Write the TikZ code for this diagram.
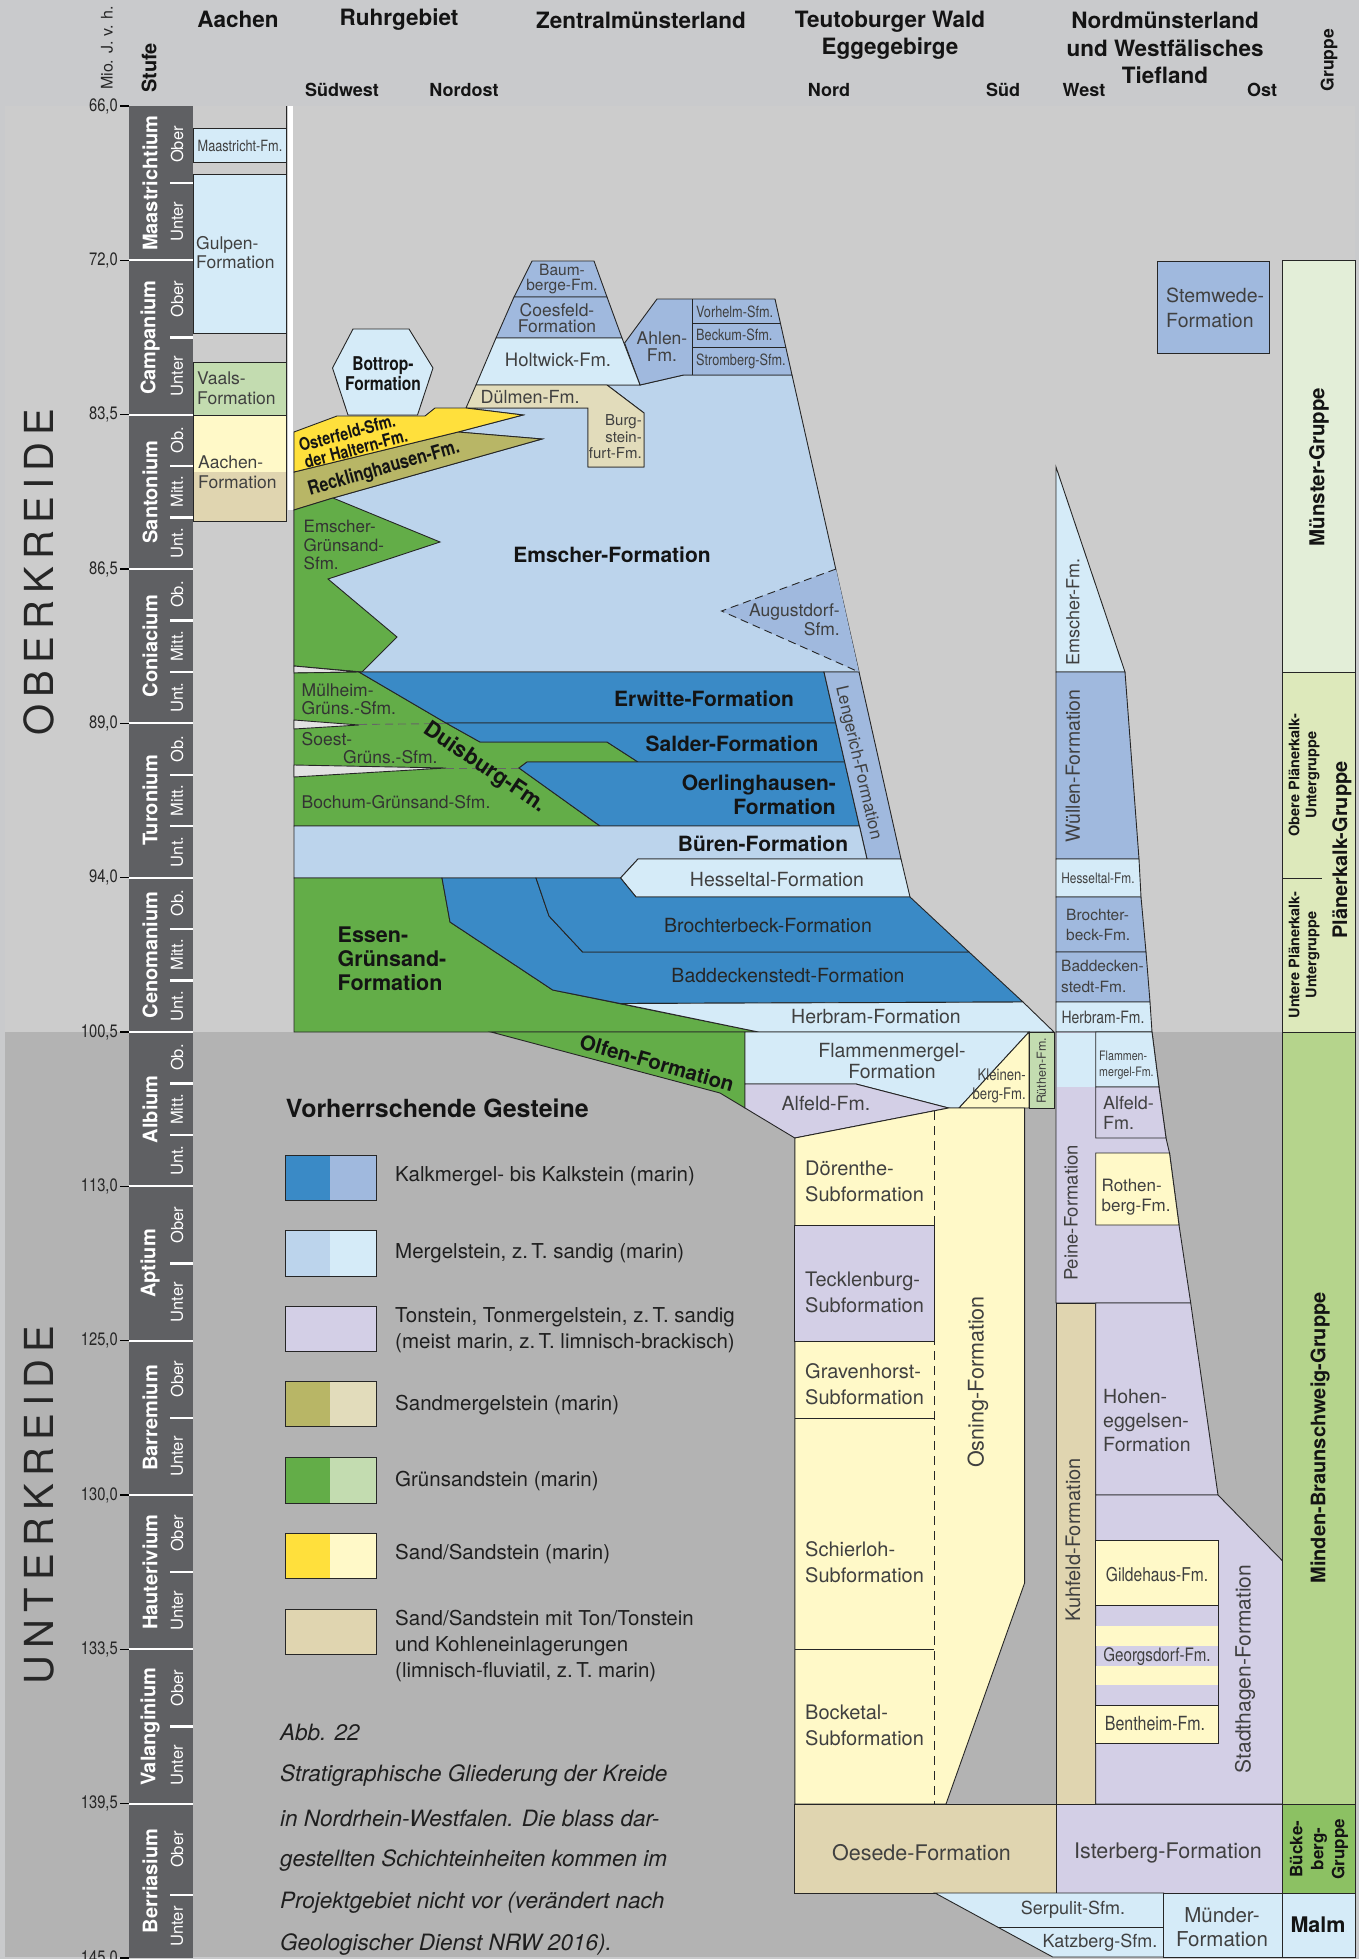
\documentclass[tikz,border=0pt]{standalone}
\usepackage{fontspec}
\setmainfont{TeX Gyre Heros}
\newfontfamily\cnd{TeX Gyre Heros}[FakeStretch=0.82]
\newfontfamily\spc{TeX Gyre Heros}[LetterSpace=18]
\usepackage{xcolor}
\usetikzlibrary{positioning}
\newcommand\fsz[2]{\fontsize{#1}{#2}\selectfont}
\definecolor{kalkD}{HTML}{3A8AC6}
\definecolor{kalkL}{HTML}{A0B9DE}
\definecolor{mergD}{HTML}{BCD4EC}
\definecolor{mergL}{HTML}{D5EBF8}
\definecolor{ton}{HTML}{D3CFE6}
\definecolor{smD}{HTML}{B8B666}
\definecolor{smL}{HTML}{E2DCBB}
\definecolor{gsD}{HTML}{63AD48}
\definecolor{gsL}{HTML}{C3DCB0}
\definecolor{sdD}{HTML}{FFE03C}
\definecolor{sdL}{HTML}{FFF9C8}
\definecolor{kohle}{HTML}{E0D5B0}
\definecolor{stufe}{HTML}{5F6063}
\definecolor{kopf}{HTML}{C9CACC}
\definecolor{ober}{HTML}{CCCCCC}
\definecolor{unter}{HTML}{B3B3B3}
\definecolor{hiat}{HTML}{E2E2E2}
\definecolor{gMue}{HTML}{E3EED8}
\definecolor{gPla}{HTML}{DDE9BB}
\definecolor{gMin}{HTML}{B5D48C}
\definecolor{gBue}{HTML}{8CC163}
\definecolor{txt}{HTML}{404040}
\tikzset{
	fm/.style={draw=black!85, line width=0.9pt},
	dsh/.style={fm, dash pattern=on 8pt off 5pt},
	lb/.style={inner sep=0pt, text=txt, align=center},
	lbw/.style={lb, anchor=west, align=left},
	bd/.style={inner sep=0pt, text=black!92, align=center},
	hd/.style={bd, font=\bfseries\fsz{22.5}{27.3}},
	dir/.style={bd, font=\bfseries\fsz{18}{18}},
	sublab/.style={inner sep=0pt, text=white, rotate=90, font=\fsz{16.5}{16.5}},
	lg/.style={inner sep=0pt, text=black!88, anchor=west, align=left, font=\fsz{20.5}{26}},
	capt/.style={inner sep=0pt, text=black!88, anchor=west, font=\itshape\fsz{22.5}{22.5}}
}
\begin{document}
\begin{tikzpicture}[x=1pt,y=-1pt]
	\useasboundingbox (0,0) rectangle (1359,1959);
	\fill[kopf] (0,0) rectangle (1359,1959);
	\fill[ober] (5,106) rectangle (1355,1032);
	\fill[unter] (5,1032) rectangle (1355,1957);
	\node[hd] (tAachen) at (238,19) {Aachen};
	\node[hd] (tRuhr) at (399,20) {Ruhrgebiet};
	\node[hd] (tZentral) at (641,20) {Zentralmünsterland};
	\node[hd] (tTeuto) at (890,35) {Teutoburger Wald\\Eggegebirge};
	\node[hd] (tNord) at (1165,48) {Nordmünsterland\\und Westfälisches\\Tiefland};
	\node[dir] (dSW) at (342,90) {Südwest};
	\node[dir] (dNO) at (464,90) {Nordost};
	\node[dir] (dN) at (829,90) {Nord};
	\node[dir] (dS) at (1003,90) {Süd};
	\node[dir] (dW) at (1084,90) {West};
	\node[dir] (dO) at (1262,90) {Ost};
	\node[inner sep=0pt, rotate=90, text=black!85, font=\fsz{16}{16}] (tMio) at (107,48) {Mio. J. v. h.};
	\node[bd, rotate=90, font=\bfseries\fsz{20}{20}] (tStufe) at (149,68) {Stufe};
	\node[bd, rotate=90, font=\bfseries\fsz{17.5}{17.5}] (tGruppe) at (1329,60) {Gruppe};
	\node[inner sep=0pt, rotate=90, text=black!85, font=\spc\fsz{40}{40}] (tOber) at (39,572) {OBERKREIDE};
	\node[inner sep=0pt, rotate=90, text=black!85, font=\spc\fsz{40}{40}] (tUnter) at (39,1505) {UNTERKREIDE};
	\fill[stufe] (128.6,106) rectangle (193,1958);
	\foreach \lab [count=\i from 0] in {{66,0},{72,0},{83,5},{86,5},{89,0},{94,0},{100,5},{113,0},{125,0},{130,0},{133,5},{139,5},{145,0}}{
		\pgfmathsetmacro\yy{106+154.33*\i}
		\draw[line width=1.6pt] (120,\yy) -- (129,\yy);
		\node[anchor=east, inner sep=0pt, text=black!85, font=\cnd\fsz{18}{18}] (t\i) at (118,\yy) {\lab};
	}
	\foreach \i in {1,...,11}{
		\pgfmathsetmacro\yy{106+154.33*\i}
		\draw[white, line width=2.2pt] (128.6,\yy) -- (193,\yy);
	}
	\foreach \nm [count=\i from 0] in {Maastrichtium,Campanium,Santonium,Coniacium,Turonium,Cenomanium,Albium,Aptium,Barremium,Hauterivium,Valanginium,Berriasium}{
		\pgfmathsetmacro\yy{183.2+154.33*\i}
		\node[rotate=90, inner sep=0pt, text=white, font=\bfseries\fsz{20}{20}] (s\i) at (150,\yy) {\nm};
	}
	\foreach \i in {0,1,7,8,9,10}{
		\pgfmathsetmacro\ya{106+154.33*\i}
		\draw[white, line width=2.2pt] (170,\ya+77.2) -- (193,\ya+77.2);
		\node[sublab] (o\i) at (177,\ya+38.6) {Ober};
		\node[sublab] (u\i) at (177,\ya+115.7) {Unter};
	}
	\draw[white, line width=2.2pt] (170,1895) -- (193,1895);
	\node[sublab] (o11) at (177,1849.5) {Ober};
	\node[sublab] (u11) at (177,1926.5) {Unter};
	\foreach \i in {2,...,6}{
		\pgfmathsetmacro\ya{106+154.33*\i}
		\draw[white, line width=2.2pt] (170,\ya+51.44) -- (193,\ya+51.44);
		\draw[white, line width=2.2pt] (170,\ya+102.9) -- (193,\ya+102.9);
		\node[sublab] (ob\i) at (177,\ya+25.7) {Ob.};
		\node[sublab] (mi\i) at (177,\ya+77.2) {Mitt.};
		\node[sublab] (un\i) at (177,\ya+128.6) {Unt.};
	}
	\filldraw[fm, fill=mergL] (193,128) rectangle (286,162);
	\filldraw[fm, fill=mergL] (193,174) rectangle (286,333);
	\filldraw[fm, fill=gsL] (193,362) rectangle (286,415);
	\fill[sdL] (193,415) rectangle (286,472);
	\fill[kohle] (193,472) rectangle (286,521);
	\draw[fm] (193,415) rectangle (286,521);
	\draw[fm] (286,106) -- (286,521);
	\fill[white] (288,106) rectangle (293,510);
	\filldraw[fm, fill=mergL] (353,329) -- (409,329) -- (433,368) -- (417.5,415) -- (348,415) -- (332.5,368) -- cycle;
	\filldraw[fm, fill=mergD] (294,510) -- (333,498) -- (542,439) -- (458,432) -- (523,415) -- (466,408) -- (588,408) -- (588,467) -- (644,467) -- (644,413) -- (607,385) -- (640,385) -- (683.5,375) -- (792,375) -- (859,672) -- (294,672) -- cycle;
	\fill[kalkL] (836,569) -- (721.5,611) -- (859,672) -- cycle;
	\draw[dsh] (836,569) -- (721.5,611) -- (859,672);
	\filldraw[fm, fill=kalkL] (640,385) -- (624.6,343) -- (657,299) -- (775,299) -- (792,375) -- (683.5,375) -- cycle;
	\draw[fm, line width=0.6pt] (692.5,299) -- (692.5,375);
	\draw[fm] (692.5,323) -- (780.2,323);
	\draw[fm] (692.5,347) -- (785.6,347);
	\filldraw[fm, fill=kalkL] (514,297) -- (532,261) -- (594,261) -- (607,297) -- cycle;
	\filldraw[fm, fill=kalkL] (496,338) -- (514,297) -- (607,297) -- (622,338) -- cycle;
	\filldraw[fm, fill=mergL] (476,385) -- (496,338) -- (622,338) -- (640,385) -- cycle;
	\filldraw[fm, fill=smL] (476,385) -- (607,385) -- (644,413) -- (644,467) -- (588,467) -- (588,408) -- (466,408) -- cycle;
	\filldraw[fm, fill=smD] (294,472) -- (458,432) -- (542,439) -- (333,498) -- (294,510) -- cycle;
	\filldraw[fm, fill=sdD] (294,432) -- (337,416) -- (425,416) -- (435,408) -- (466,408) -- (523,415) -- (458,432) -- (294,472) -- cycle;
	\filldraw[fm, fill=gsD] (294,510) -- (333,498) -- (440,542) -- (328,579) -- (397,637) -- (362,672) -- (294,666) -- cycle;
	\filldraw[fm, fill=hiat] (294,666) -- (359,672) -- (294,673) -- cycle;
	\filldraw[fm, fill=gsD] (294,673) -- (359,672) -- (446,723) -- (480,742) -- (607,742) -- (638,762) -- (527,762) -- (519,768) -- (600,826) -- (294,826) -- cycle;
	\filldraw[fm, fill=hiat] (294,720) -- (359,725) -- (294,729) -- cycle;
	\filldraw[fm, fill=hiat] (294,765) -- (446,768) -- (294,777) -- cycle;
	\draw[dsh, draw=black!60] (359,724.5) -- (446,723.5);
	\draw[dsh, draw=black!60] (446,768) -- (519,768);
	\filldraw[fm, fill=kalkD] (359,672) -- (824,672) -- (835.7,723) -- (446,723) -- cycle;
	\filldraw[fm, fill=kalkD] (446,723) -- (835.7,723) -- (844.7,762) -- (638,762) -- (607,742) -- (480,742) -- cycle;
	\filldraw[fm, fill=kalkD] (527,762) -- (844.7,762) -- (859.4,826) -- (600,826) -- (519,768) -- cycle;
	\filldraw[fm, fill=kalkL] (824,672) -- (859,672) -- (901,859) -- (867,859) -- cycle;
	\filldraw[fm, fill=mergD] (294,826) -- (859.4,826) -- (867,859) -- (638,859) -- (620.5,878) -- (294,878) -- cycle;
	\filldraw[fm, fill=mergL] (620.5,878) -- (638,859) -- (901,859) -- (910,897) -- (636,897) -- cycle;
	\filldraw[fm, fill=gsD] (294,878) -- (442,878) -- (450,922) -- (552.7,990) -- (758.5,1032) -- (294,1032) -- cycle;
	\filldraw[fm, fill=kalkD] (442,878) -- (536,878) -- (549,916) -- (582.6,952) -- (969,952) -- (1023,1002) -- (620.5,1003.5) -- (552.7,990) -- (450,922) -- cycle;
	\filldraw[fm, fill=kalkD] (536,878) -- (620.5,878) -- (636,897) -- (910,897) -- (969,952) -- (582.6,952) -- (549,916) -- cycle;
	\filldraw[fm, fill=mergL] (620.5,1003.5) -- (1023,1002) -- (1054,1032) -- (758.5,1032) -- cycle;
	\filldraw[fm, fill=gsD] (491,1032) -- (745,1032) -- (745,1108) -- (720,1093) -- cycle;
	\filldraw[fm, fill=mergL] (745,1032) -- (1029,1032) -- (959,1108) -- (948.6,1108) -- (856,1084) -- (745,1084) -- cycle;
	\filldraw[fm, fill=ton] (745,1084) -- (856,1084) -- (948.6,1108) -- (794.8,1138) -- (745,1108) -- cycle;
	\filldraw[fm, fill=sdL] (1029,1032) -- (1029,1108) -- (959,1108) -- cycle;
	\filldraw[fm, fill=gsL] (1029,1032) rectangle (1054,1108);
	\filldraw[fm, fill=sdL] (794.8,1138) -- (948.6,1108) -- (1024.6,1108) -- (1024.6,1583) -- (946,1804) -- (794.8,1804) -- cycle;
	\filldraw[fm, fill=ton] (794.8,1225) rectangle (934,1341);
	\draw[fm] (794.8,1418) -- (934,1418);
	\draw[fm] (794.8,1649) -- (934,1649);
	\draw[fm, dash pattern=on 9pt off 6pt] (934,1111) -- (934,1804);
	\filldraw[fm, fill=kohle] (794.8,1804) rectangle (1056,1893);
	\filldraw[fm, fill=ton] (1056,1804) rectangle (1282.6,1893);
	\filldraw[fm, fill=mergL] (935,1893) -- (1163.6,1893) -- (1163.6,1957) -- (1052.7,1957) -- cycle;
	\draw[fm] (997.5,1927) -- (1163.6,1927);
	\filldraw[fm, fill=mergL] (1163.6,1893) rectangle (1282.6,1957);
	\filldraw[fm, fill=mergL] (1056,467) -- (1125,672) -- (1056,672) -- cycle;
	\filldraw[fm, fill=kalkL] (1056,672) -- (1125,672) -- (1139,859) -- (1056,859) -- cycle;
	\filldraw[fm, fill=mergL] (1056,859) -- (1139,859) -- (1141,897) -- (1056,897) -- cycle;
	\filldraw[fm, fill=kalkL] (1056,897) -- (1141,897) -- (1146,952) -- (1056,952) -- cycle;
	\filldraw[fm, fill=kalkL] (1056,952) -- (1146,952) -- (1150,1002) -- (1056,1002) -- cycle;
	\filldraw[fm, fill=mergL] (1056,1002) -- (1150,1002) -- (1152,1032) -- (1056,1032) -- cycle;
	\filldraw[fm, fill=ton] (1056,1032) -- (1152,1032) -- (1159,1087) -- (1166,1138) -- (1169.5,1153) -- (1179,1225) -- (1190.7,1303) -- (1056,1303) -- cycle;
	\fill[mergL] (1056.5,1032.5) rectangle (1095.7,1087);
	\filldraw[fm, fill=mergL] (1095.7,1032) -- (1152,1032) -- (1159,1087) -- (1095.7,1087) -- cycle;
	\filldraw[fm, fill=ton] (1095.7,1087) -- (1159,1087) -- (1166,1138) -- (1095.7,1138) -- cycle;
	\filldraw[fm, fill=sdL] (1095.7,1153) -- (1169.5,1153) -- (1179,1225) -- (1095.7,1225) -- cycle;
	\filldraw[fm, fill=kohle] (1056,1303) rectangle (1095.7,1804);
	\filldraw[fm, fill=ton] (1095.7,1303) -- (1190.7,1303) -- (1218,1495) -- (1095.7,1495) -- cycle;
	\filldraw[fm, fill=ton] (1095.7,1495) -- (1218,1495) -- (1282.6,1561) -- (1282.6,1804) -- (1095.7,1804) -- cycle;
	\filldraw[fm, fill=sdL] (1095.7,1540) rectangle (1218,1605);
	\fill[sdL] (1095.7,1626) rectangle (1218,1646);
	\fill[sdL] (1095.7,1666) rectangle (1218,1685);
	\draw[fm] (1095.7,1605) rectangle (1218,1705);
	\filldraw[fm, fill=sdL] (1095.7,1705) rectangle (1218,1743);
	\filldraw[fm, fill=kalkL] (1157,261) rectangle (1269,353);
	\filldraw[fm, fill=gMue] (1282.6,260) rectangle (1355,672);
	\filldraw[fm, fill=gPla] (1282.6,672) rectangle (1355,1032);
	\draw[fm] (1282.6,878) -- (1322,878);
	\filldraw[fm, fill=gMin] (1282.6,1032) rectangle (1355,1804);
	\filldraw[fm, fill=gBue] (1282.6,1804) rectangle (1355,1893);
	\filldraw[fm, fill=mergL] (1282.6,1893) rectangle (1355,1957);
	\node[bd, rotate=90, font=\bfseries\fsz{20.5}{20.5}] (gMue) at (1319,467) {Münster-Gruppe};
	\node[bd, rotate=90, font=\bfseries\fsz{14.5}{17}] (gOb) at (1304,775) {Obere Plänerkalk-\\Untergruppe};
	\node[bd, rotate=90, font=\bfseries\fsz{14.5}{17}] (gUn) at (1304,955) {Untere Plänerkalk-\\Untergruppe};
	\node[bd, rotate=90, font=\bfseries\fsz{20}{20}] (gPla) at (1342,850) {Plänerkalk-Gruppe};
	\node[bd, rotate=90, font=\bfseries\fsz{20}{20}] (gMin) at (1320,1438) {Minden-Braunschweig-Gruppe};
	\node[bd, rotate=90, font=\bfseries\fsz{17}{21}] (gBue) at (1319,1849) {Bücke-\\berg-\\Gruppe};
	\node[bd, font=\bfseries\fsz{21.5}{21.5}] (gMalm) at (1318,1925) {Malm};
	\node[lb, font=\cnd\fsz{15.5}{15.5}] (lMaas) at (240,146) {Maastricht-Fm.};
	\node[lbw, font=\fsz{17.5}{19}] (lGulp) at (196,253) {Gulpen-\\Formation};
	\node[lbw, font=\fsz{17.5}{19.6}] (lVaals) at (197,388) {Vaals-\\Formation};
	\node[lbw, font=\fsz{17.5}{20}] (lAach) at (198,472) {Aachen-\\Formation};
	\node[bd, font=\cnd\bfseries\fsz{19}{20}] (lBott) at (383,374) {Bottrop-\\Formation};
	\node[bd, rotate=15, font=\cnd\bfseries\fsz{17.5}{17.5}] (lOst) at (347,433) {Osterfeld-Sfm.};
	\node[bd, rotate=15, font=\cnd\bfseries\fsz{17.5}{17.5}] (lHalt) at (356,449) {der Haltern-Fm.};
	\node[bd, rotate=16, font=\cnd\bfseries\fsz{19.5}{19.5}] (lReck) at (384,469) {Recklinghausen-Fm.};
	\node[lb, font=\fsz{15.5}{15}] (lBaum) at (562,279.5) {Baum-\\berge-Fm.};
	\node[lb, font=\fsz{17.5}{16.5}] (lCoes) at (557,318) {Coesfeld-\\Formation};
	\node[lb, font=\fsz{18.5}{18.5}] (lHolt) at (558,360) {Holtwick-Fm.};
	\node[lb, font=\fsz{18}{18}] (lDuel) at (530,397) {Dülmen-Fm.};
	\node[lb, anchor=east, align=right, font=\fsz{15}{16.5}] (lBurg) at (642,437) {Burg-\\stein-\\furt-Fm.};
	\node[lb, font=\fsz{17.5}{17.5}] (lAhlen) at (662,346.5) {Ahlen-\\Fm.};
	\node[lbw, font=\cnd\fsz{15.5}{15.5}] (lVorh) at (696,312) {Vorhelm-Sfm.};
	\node[lbw, font=\cnd\fsz{15.5}{15.5}] (lBeck) at (696,335) {Beckum-Sfm.};
	\node[lbw, font=\cnd\fsz{15.5}{15.5}] (lStrom) at (696,361) {Stromberg-Sfm.};
	\node[lbw, text=black!80, font=\fsz{17}{18.7}] (lEGS) at (303.5,545) {Emscher-\\Grünsand-\\Sfm.};
	\node[bd, font=\bfseries\fsz{21}{21}] (lEmsch) at (612,555) {Emscher-Formation};
	\node[lb, anchor=east, align=right, font=\fsz{17.5}{19}] (lAug) at (840,619.5) {Augustdorf-\\Sfm.};
	\node[lbw, text=black!80, font=\fsz{17.5}{18}] (lMuel) at (301.5,699) {Mülheim-\\Grüns.-Sfm.};
	\node[lbw, text=black!80, font=\fsz{17.5}{17.5}] (lSoest) at (301.5,739) {Soest-};
	\node[lbw, text=black!80, font=\fsz{17.5}{17.5}] (lSoestB) at (343,757) {Grüns.-Sfm.};
	\node[lbw, text=black!80, font=\fsz{17.5}{17.5}] (lBoch) at (301.5,802) {Bochum-Grünsand-Sfm.};
	\node[bd, rotate=-34, font=\bfseries\fsz{22}{22}] (lDuis) at (485,768) {Duisburg-Fm.};
	\node[bd, font=\bfseries\fsz{21}{21}] (lErw) at (704,699) {Erwitte-Formation};
	\node[bd, font=\bfseries\fsz{21}{21}] (lSald) at (732,744) {Salder-Formation};
	\node[bd, anchor=east, align=right, font=\bfseries\fsz{21}{23.5}] (lOerl) at (836,795) {Oerlinghausen-\\Formation};
	\node[bd, font=\bfseries\fsz{21}{21}] (lBuer) at (763,844) {Büren-Formation};
	\node[lb, rotate=-77, font=\fsz{17}{17}] (lLeng) at (858,763) {Lengerich-Formation};
	\node[lb, font=\fsz{19.5}{19.5}] (lHess) at (777,880) {Hesseltal-Formation};
	\node[lb, text=black!85, font=\fsz{19.5}{19.5}] (lBroch) at (768,926) {Brochterbeck-Formation};
	\node[lb, text=black!85, font=\fsz{19.5}{19.5}] (lBadd) at (788,976) {Baddeckenstedt-Formation};
	\node[lb, font=\fsz{19.5}{19.5}] (lHerb) at (876,1017) {Herbram-Formation};
	\node[bd, anchor=west, align=left, font=\bfseries\fsz{21.5}{24}] (lEssen) at (337.5,959) {Essen-\\Grünsand-\\Formation};
	\node[bd, rotate=-16, font=\bfseries\fsz{20.5}{20.5}] (lOlfen) at (657,1063) {Olfen-Formation};
	\node[lb, font=\fsz{19.5}{21}] (lFlam) at (892,1061) {Flammenmergel-\\Formation};
	\node[lb, font=\fsz{19.5}{19.5}] (lAlf) at (826,1103) {Alfeld-Fm.};
	\node[lb, anchor=east, align=right, font=\cnd\fsz{16}{18.5}] (lKlein) at (1026,1086) {Kleinen-\\berg-Fm.};
	\node[lb, rotate=90, font=\fsz{12.5}{12.5}] (lRueth) at (1041.5,1071) {Rüthen-Fm.};
	\node[lbw, font=\fsz{20}{26}] (lDoer) at (805,1181) {Dörenthe-\\Subformation};
	\node[lbw, font=\fsz{20}{26}] (lTeck) at (805,1292.5) {Tecklenburg-\\Subformation};
	\node[lbw, font=\fsz{20}{26}] (lGrav) at (805,1384) {Gravenhorst-\\Subformation};
	\node[lbw, font=\fsz{20}{26}] (lSchier) at (805,1562) {Schierloh-\\Subformation};
	\node[lbw, font=\fsz{20}{26}] (lBock) at (805,1725) {Bocketal-\\Subformation};
	\node[lb, rotate=90, font=\fsz{21.5}{21.5}] (lOsn) at (978,1382) {Osning-Formation};
	\node[lb, font=\fsz{21.5}{21.5}] (lOes) at (921.5,1853) {Oesede-Formation};
	\node[lb, font=\fsz{21.5}{21.5}] (lIst) at (1168,1853) {Isterberg-Formation};
	\node[lb, font=\fsz{18}{18}] (lSerp) at (1073,1910) {Serpulit-Sfm.};
	\node[lb, font=\fsz{18}{18}] (lKatz) at (1100,1943) {Katzberg-Sfm.};
	\node[lb, font=\fsz{20.5}{24}] (lMuend) at (1222,1927) {Münder-\\Formation};
	\node[lb, rotate=90, font=\fsz{18}{18}] (lEmFm) at (1073,612) {Emscher-Fm.};
	\node[lb, rotate=90, font=\fsz{19.5}{19.5}] (lWuel) at (1073,766) {Wüllen-Formation};
	\node[lb, font=\cnd\fsz{14.5}{14.5}] (lHessN) at (1098,878) {Hesseltal-Fm.};
	\node[lbw, font=\fsz{15.5}{19.3}] (lBrN) at (1066,925) {Brochter-\\beck-Fm.};
	\node[lbw, font=\fsz{15.5}{20.7}] (lBaN) at (1061,976.5) {Baddecken-\\stedt-Fm.};
	\node[lb, font=\cnd\fsz{17}{17}] (lHeN) at (1103,1017) {Herbram-Fm.};
	\node[lbw, font=\cnd\fsz{13}{16.6}] (lFlN) at (1099,1065) {Flammen-\\mergel-Fm.};
	\node[lbw, font=\fsz{18}{20}] (lAlN) at (1103,1112.7) {Alfeld-\\Fm.};
	\node[lb, rotate=90, font=\fsz{18.5}{18.5}] (lPeine) at (1071,1213) {Peine-Formation};
	\node[lbw, font=\fsz{17}{20}] (lRoth) at (1101.5,1196.7) {Rothen-\\berg-Fm.};
	\node[lbw, font=\fsz{19.5}{24}] (lHoh) at (1103,1421) {Hohen-\\eggelsen-\\Formation};
	\node[lb, rotate=90, font=\fsz{20}{20}] (lKuhf) at (1073,1540) {Kuhfeld-Formation};
	\node[lb, font=\cnd\fsz{19}{19}] (lGild) at (1157,1575) {Gildehaus-Fm.};
	\node[lb, font=\cnd\fsz{18.5}{18.5}] (lGeor) at (1157,1657) {Georgsdorf-Fm.};
	\node[lb, font=\cnd\fsz{19.5}{19.5}] (lBent) at (1155,1724) {Bentheim-Fm.};
	\node[lb, rotate=90, font=\fsz{21}{21}] (lStadt) at (1245,1669) {Stadthagen-Formation};
	\node[lbw, font=\fsz{19.5}{25}] (lStem) at (1166,307.5) {Stemwede-\\Formation};
	\node[bd, anchor=west, font=\bfseries\fsz{25}{25}] (leg) at (285.7,1108) {Vorherrschende Gesteine};
	\foreach \cA/\cB/\yy in {kalkD/kalkL/1155, mergD/mergL/1230.7, ton/ton/1306, smD/smL/1381, gsD/gsL/1457.7, sdD/sdL/1533, kohle/kohle/1609}{
		\fill[\cA] (285.7,\yy) rectangle (329.5,\yy+45.5);
		\fill[\cB] (329.5,\yy) rectangle (376,\yy+45.5);
		\draw[fm] (285.7,\yy) rectangle (376,\yy+45.5);
	}
	\node[lg] (g1) at (395,1176) {Kalkmergel- bis Kalkstein (marin)};
	\node[lg] (g2) at (395,1253) {Mergelstein, z.\,T. sandig (marin)};
	\node[lg] (g3) at (395,1330) {Tonstein, Tonmergelstein, z.\,T. sandig\\(meist marin, z.\,T. limnisch-brackisch)};
	\node[lg] (g4) at (395,1405) {Sandmergelstein (marin)};
	\node[lg] (g5) at (395,1481) {Grünsandstein (marin)};
	\node[lg] (g6) at (395,1554) {Sand/Sandstein (marin)};
	\node[lg] (g7) at (395,1646) {Sand/Sandstein mit Ton/Tonstein\\und Kohleneinlagerungen\\(limnisch-fluviatil, z.\,T. marin)};
	\node[capt] (c0) at (280,1732) {Abb. 22};
	\node[capt] (c1) at (280,1776) {Stratigraphische Gliederung der Kreide};
	\node[capt] (c2) at (280,1818) {in Nordrhein-Westfalen. Die blass dar-};
	\node[capt] (c3) at (280,1861) {gestellten Schichteinheiten kommen im};
	\node[capt] (c4) at (280,1903) {Projektgebiet nicht vor (verändert nach};
	\node[capt] (c5) at (280,1945) {Geologischer Dienst NRW 2016).};
\end{tikzpicture}
\end{document}
